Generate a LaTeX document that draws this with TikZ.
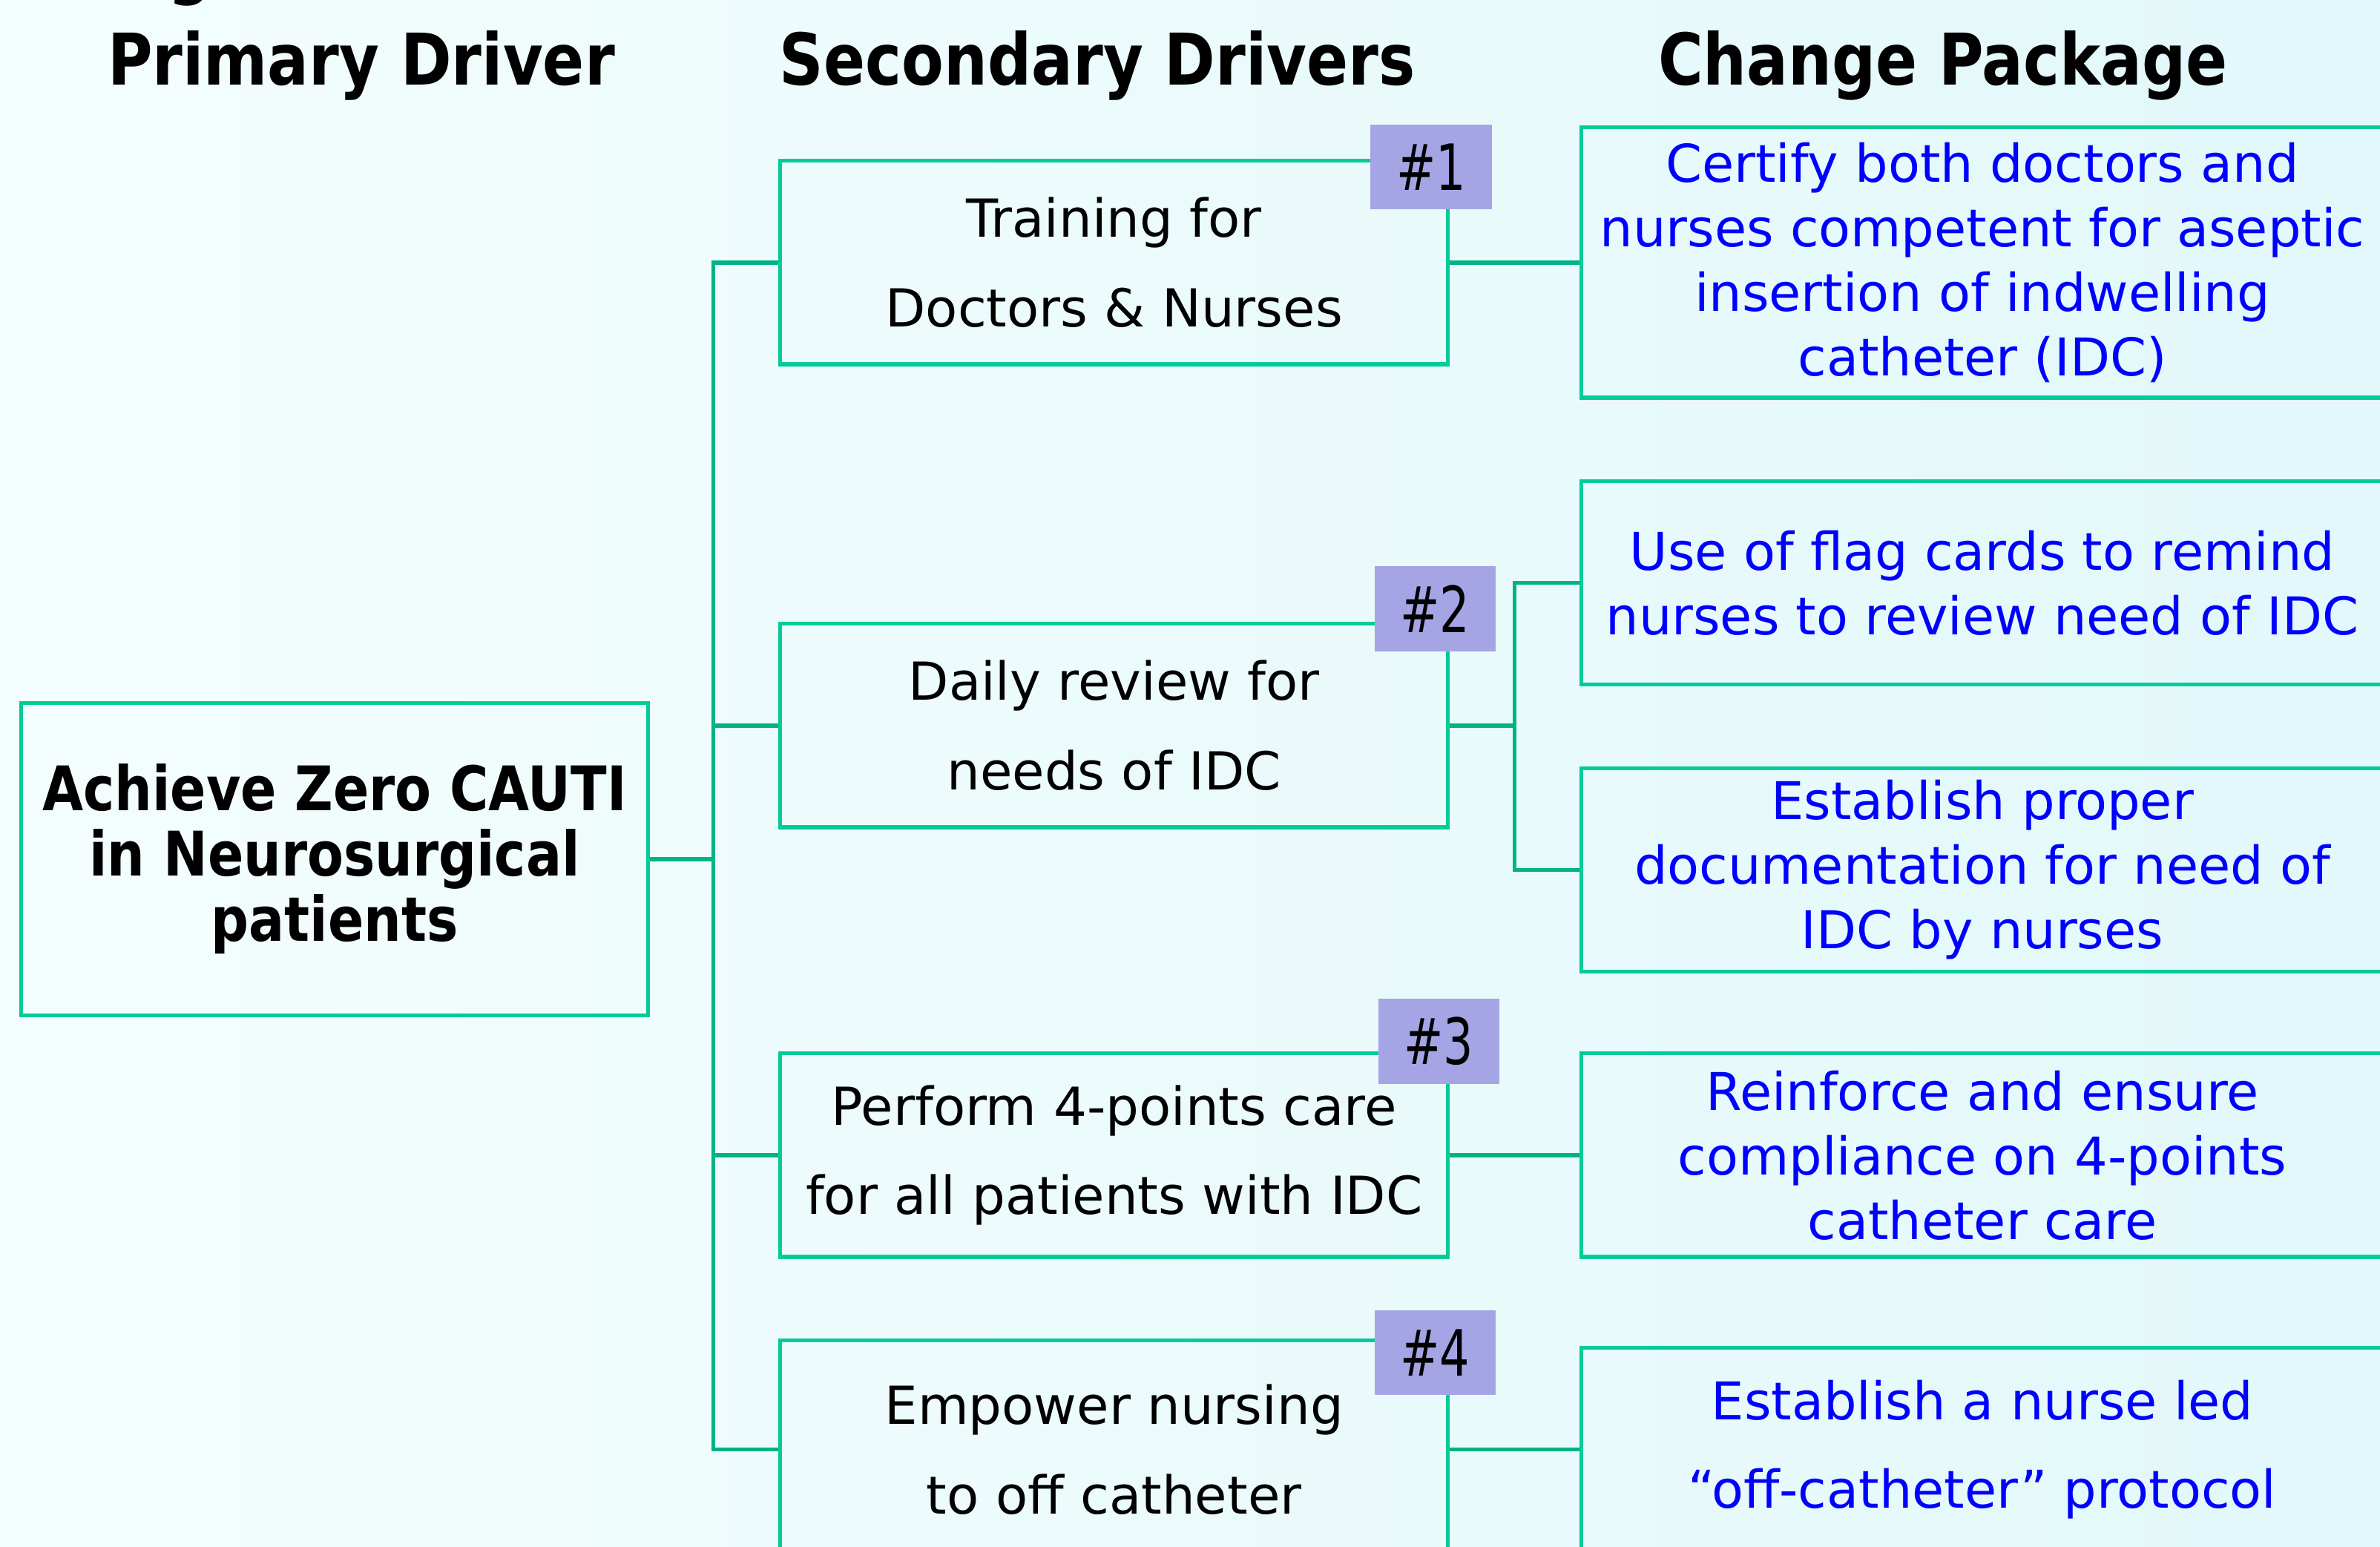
\documentclass[tikz,border=0pt]{standalone}
\usepackage{fontspec}
\setmainfont{DejaVu Sans}
\newfontfamily\narrowfont[FakeStretch=0.86]{DejaVu Sans}
\newfontfamily\tagfont[FakeStretch=0.74]{DejaVu Sans}

\definecolor{boxline}{HTML}{00CC99}
\definecolor{linkline}{HTML}{00B386}
\definecolor{tagfill}{HTML}{A5A5E6}
\definecolor{actiontext}{HTML}{0000FF}
\definecolor{bgleft}{HTML}{F4FDFD}
\definecolor{bgright}{HTML}{E2F8FA}

\tikzset{
  heading/.style={anchor=base, inner sep=0pt,
    font=\narrowfont\bfseries\fontsize{47}{50}\selectfont},
  primbox/.style={draw=boxline, line width=2.5pt, inner sep=0pt,
    minimum width=413pt, minimum height=206pt, align=center,
    font=\narrowfont\bfseries\fontsize{40.5}{43}\selectfont},
  secbox/.style={draw=boxline, line width=2.5pt, inner sep=0pt,
    minimum width=440pt, minimum height=134pt, align=center,
    font=\fontsize{34.5}{59}\selectfont},
  chgbox/.style={draw=boxline, line width=2.5pt, inner sep=0pt,
    minimum width=528pt, minimum height=134pt, align=center,
    text=actiontext, font=\fontsize{34.3}{42.5}\selectfont},
  tagbox/.style={fill=tagfill, inner sep=0pt,
    minimum width=80pt, minimum height=56pt,
    font=\tagfont\fontsize{42}{42}\selectfont},
  link/.style={draw=linkline, line width=2.5pt},
}

\begin{document}
\begin{tikzpicture}[x=1pt, y=-1pt]
  % page frame and soft background
  \useasboundingbox (0,0) rectangle (1568,1019);
  \shade[left color=bgleft, right color=bgright] (0,0) rectangle (1568,1019);

  % descender of the line above the column titles
  \node[heading] (gtail) at (125,-6) {g};

  % column titles
  \node[heading] (hprim) at (238,56) {Primary Driver};
  \node[heading] (hsec)  at (723,56) {Secondary Drivers};
  \node[heading] (hchg)  at (1280,56) {Change Package};

  % primary driver
  \node[primbox] (P) at (220.5,566) {Achieve Zero CAUTI\\in Neurosurgical\\patients};

  % secondary drivers
  \node[secbox] (S1) at (734,173) {Training for\\Doctors \& Nurses};
  \node[secbox] (S2) at (734,478) {Daily review for\\needs of IDC};
  \node[secbox] (S3) at (734,761) {Perform 4-points care\\for all patients with IDC};
  \node[secbox, minimum height=144pt] (S4) at (734,955) {Empower nursing\\to off catheter};

  % change package
  \node[chgbox, minimum height=178pt] (C1) at (1306,173)
    {Certify both doctors and\\nurses competent for aseptic\\insertion of indwelling\\catheter (IDC)};
  \node[chgbox] (C2) at (1306,384) {Use of flag cards to remind\\nurses to review need of IDC};
  \node[chgbox] (C3) at (1306,573) {Establish proper\\documentation for need of\\IDC by nurses};
  \node[chgbox] (C4) at (1306,761) {Reinforce and ensure\\compliance on 4-points\\catheter care};
  \node[chgbox, font=\fontsize{34.3}{58}\selectfont] (C5) at (1306,955)
    {Establish a nurse led\\“off-catheter” protocol};

  % connectors: primary driver to secondary drivers
  \coordinate (trunk) at (470,566);
  \draw[link] (P.east) -- (trunk);
  \draw[link] (S1.west) -| (trunk);
  \draw[link] (S2.west) -| (trunk);
  \draw[link] (S3.west) -| (trunk);
  \draw[link] (S4.west) -| (trunk);

  % connectors: secondary drivers to change package
  \draw[link] (S1.east) -- (C1.west);
  \coordinate (split) at (998,478);
  \draw[link] (S2.east) -- (split);
  \draw[link] (C2.west) -| (split);
  \draw[link] (C3.west) -| (split);
  \draw[link] (S3.east) -- (C4.west);
  \draw[link] (S4.east) -- (C5.west);

  % numbered tags on the secondary drivers
  \node[tagbox] (T1) at (943,110) {\#1};
  \node[tagbox] (T2) at (945.5,401) {\#2};
  \node[tagbox] (T3) at (948,686) {\#3};
  \node[tagbox] (T4) at (945.5,891) {\#4};
\end{tikzpicture}
\end{document}
